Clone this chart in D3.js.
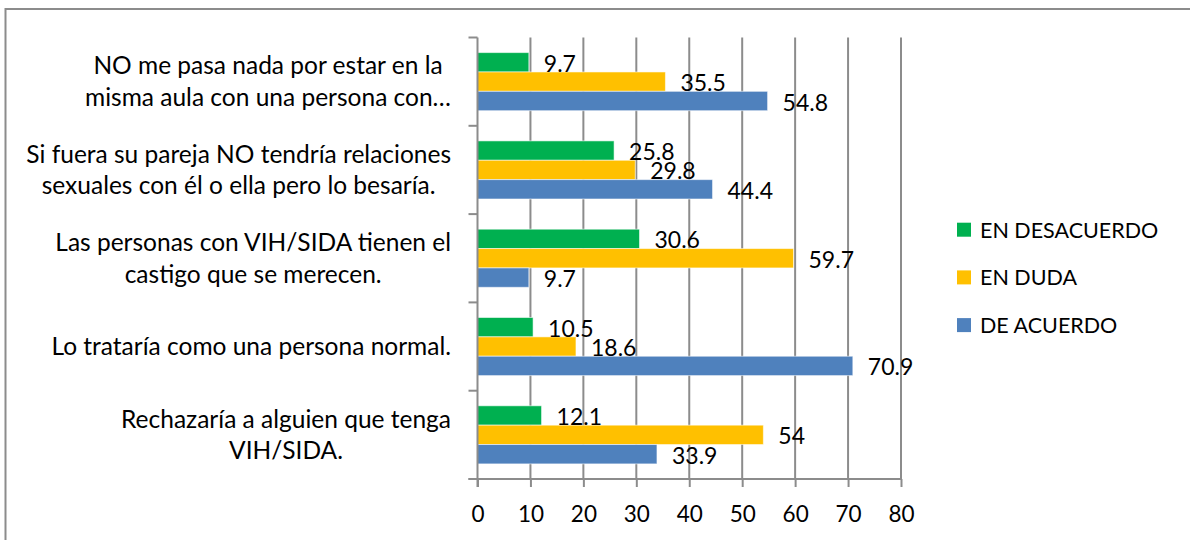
<!DOCTYPE html>
<html>
<head>
<meta charset="utf-8">
<script src="https://cdn.jsdelivr.net/npm/d3@7"></script>
<style>
  body { margin: 0; background: #fff; }
  svg { display: block; }
  text { font-family: Lato, "Open Sans", sans-serif; fill: #000; }
</style>
</head>
<body>
<svg id="chart" width="1190" height="540"></svg>
<script>
// ---- data ----
const categories = [
  ["NO me pasa nada por estar en la", "misma aula con una persona con…"],
  ["Si fuera su pareja NO tendría relaciones", "sexuales con él o ella pero lo besaría."],
  ["Las personas con VIH/SIDA tienen el", "castigo que se merecen."],
  ["Lo trataría como una persona normal."],
  ["Rechazaría a alguien que tenga", "VIH/SIDA."]
];
const seriesNames = ["EN DESACUERDO", "EN DUDA", "DE ACUERDO"];
const enDesacuerdo = [9.7, 25.8, 30.6, 10.5, 12.1];
const enDuda = [35.5, 29.8, 59.7, 18.6, 54];
const deAcuerdo = [54.8, 44.4, 9.7, 70.9, 33.9];
const xTicks = [0, 10, 20, 30, 40, 50, 60, 70, 80];
const colors = ["#00B050", "#FFC000", "#4F81BD"];

const seriesValues = [enDesacuerdo, enDuda, deAcuerdo];
const catKeys = categories.map((c, i) => "c" + i);

const svg = d3.select("#chart");

// outer chart border (extends beyond the picture on right/bottom)
svg.append("rect")
  .attr("x", 5.5).attr("y", 9).attr("width", 1300).attr("height", 700)
  .attr("fill", "none").attr("stroke", "#8c8c8c").attr("stroke-width", 2);

const plot = { left: 477.5, right: 901, top: 37.5, bottom: 479 };

const x = d3.scaleLinear().domain([0, 80]).range([plot.left, plot.right]);
const y0 = d3.scaleBand().domain(catKeys).range([plot.top, plot.bottom]).padding(0);
const y1 = d3.scaleBand().domain(seriesNames).range([0, y0.bandwidth()])
  .paddingInner(0).paddingOuter(0.78);

const gridColor = "#8c8c8c";

// vertical gridlines
svg.append("g").selectAll("line").data(xTicks.slice(1)).join("line")
  .attr("x1", d => x(d)).attr("x2", d => x(d))
  .attr("y1", plot.top).attr("y2", plot.bottom)
  .attr("stroke", gridColor).attr("stroke-width", 2);

// bars
const groups = svg.append("g").selectAll("g").data(catKeys).join("g")
  .attr("transform", d => `translate(0,${y0(d)})`);

groups.each(function(ck, ci) {
  const g = d3.select(this);
  seriesNames.forEach((s, si) => {
    const v = seriesValues[si][ci];
    g.append("rect")
      .attr("x", x(0)).attr("y", y1(s))
      .attr("width", x(v) - x(0)).attr("height", y1.bandwidth())
      .attr("fill", colors[si])
      .attr("stroke", "rgba(255,255,255,0.55)").attr("stroke-width", 1);
  });
});

// data labels
groups.each(function(ck, ci) {
  const g = d3.select(this);
  seriesNames.forEach((s, si) => {
    const v = seriesValues[si][ci];
    g.append("text")
      .attr("x", x(v) + 15)
      .attr("y", y1(s) + y1.bandwidth() / 2 + 9.5)
      .attr("font-size", 23)
      .text(String(v));
  });
});

// y axis (left, ticks at category boundaries)
const boundaries = catKeys.map(k => y0(k)).concat([plot.bottom]);
svg.append("line")
  .attr("x1", plot.left).attr("x2", plot.left)
  .attr("y1", plot.top).attr("y2", plot.bottom + 8)
  .attr("stroke", gridColor).attr("stroke-width", 2);
svg.append("g").selectAll("line").data(boundaries).join("line")
  .attr("x1", plot.left - 9).attr("x2", plot.left)
  .attr("y1", d => d).attr("y2", d => d)
  .attr("stroke", gridColor).attr("stroke-width", 2);

// x axis
const xAxis = d3.axisBottom(x).tickValues(xTicks).tickSize(8).tickSizeOuter(0)
  .tickFormat(d3.format("d"));
const xg = svg.append("g").attr("transform", `translate(0,${plot.bottom})`).call(xAxis);
xg.select(".domain").attr("stroke", gridColor).attr("stroke-width", 2)
  .attr("d", `M${plot.left - 9},0H${plot.right}`);
xg.selectAll(".tick line").attr("stroke", gridColor).attr("stroke-width", 2);
xg.selectAll(".tick text").attr("font-size", 22.5).attr("font-family", "Lato, sans-serif")
  .attr("fill", "#000").attr("y", 27).attr("dy", "0.71em");

// category labels: block right-aligned, lines centered within the block
const labelRight = 451;
const lineH = 31.7;
catKeys.forEach((k, ci) => {
  const lines = categories[ci];
  const cy = y0(k) + y0.bandwidth() / 2;
  const g = svg.append("g");
  const texts = lines.map((ln, li) => g.append("text")
    .attr("font-size", 24.5)
    .attr("text-anchor", "middle")
    .attr("y", cy + (li - (lines.length - 1) / 2) * lineH + 8.5)
    .text(ln));
  const w = d3.max(texts, t => t.node().getComputedTextLength());
  texts.forEach(t => t.attr("x", labelRight - w / 2));
});

// legend
const legend = svg.append("g");
seriesNames.forEach((s, i) => {
  const cy = 229.7 + i * 47.7;
  legend.append("rect").attr("x", 957).attr("y", cy - 7).attr("width", 14).attr("height", 14)
    .attr("fill", colors[i]);
  legend.append("text").attr("x", 980).attr("y", cy + 8).attr("font-size", 21.5).text(s);
});
</script>
</body>
</html>
